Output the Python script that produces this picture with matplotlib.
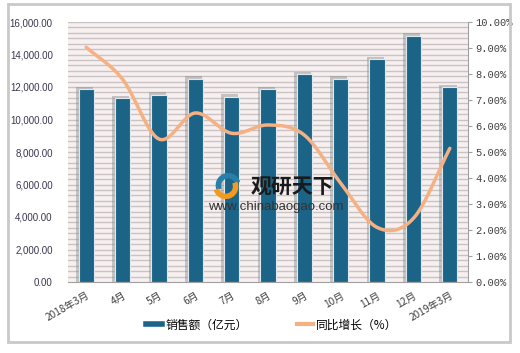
import numpy as np
import matplotlib
matplotlib.use("Agg")
import matplotlib.pyplot as plt
from matplotlib.lines import Line2D
from matplotlib.patches import Rectangle, Wedge

categories = ["2018年3月", "4月", "5月", "6月", "7月", "8月", "9月", "10月", "11月", "12月", "2019年3月"]
sales = [11850, 11300, 11500, 12500, 11400, 11850, 12780, 12490, 13700, 15140, 11980]
growth = [9.03, 7.8, 5.5, 6.5, 5.72, 6.04, 5.65, 3.8, 2.1, 2.45, 5.14]

plt.rcParams['font.family'] = ['Noto Sans CJK SC', 'DejaVu Sans']

fig = plt.figure(figsize=(5.2, 3.53), dpi=100)
fig.patch.set_facecolor('white')
# outer chart border
fig.patches.append(Rectangle((8 / 520, 1 - 342 / 353), (510 - 8) / 520, (342 - 4) / 353,
                             transform=fig.transFigure, fill=False, edgecolor='#c9c9c9', lw=2))

ax = fig.add_axes([68 / 520, 1 - 282 / 353, 400 / 520, 260 / 353])
ax.set_facecolor('#f8f0f0')
x = np.arange(len(categories))
ax.set_xlim(-0.5, len(categories) - 0.5)
ax.set_ylim(0, 16000)

# grid lines
for g in np.linspace(0, 16000, 49)[1:]:
    ax.axhline(g, color='#c9c3c3', lw=1.0, zorder=0.5)

bw = 0.42
# shadows
ax.bar(x - 0.05, np.array(sales) + 170, width=bw + 0.05, color='#8a8a8a', alpha=0.45, zorder=1, lw=0)
ax.bar(x, sales, width=bw, color='#1b6487', edgecolor='#dfe8ee', lw=0.8, zorder=2)

ax.set_yticks(np.arange(0, 16001, 2000))
ax.set_yticklabels([f"{v:,.2f}" for v in np.arange(0, 16001, 2000)],
                   fontfamily='Liberation Sans', fontsize=7, color='#3b3550')
ax.tick_params(axis='y', length=0, pad=11)
ax.set_xticks(x)
ax.set_xticklabels(categories, rotation=30, ha='right', rotation_mode='anchor',
                   fontsize=7.3, color='#404040')
ax.tick_params(axis='x', length=0, pad=6)
for s in ['top', 'left']:
    ax.spines[s].set_visible(False)
ax.spines['bottom'].set_color('#a0a0a0')
ax.spines['right'].set_visible(False)

ax2 = ax.twinx()
ax2.set_ylim(0, 10)
ax2.set_xlim(ax.get_xlim())

# Catmull-Rom smoothing of the line (as the reference's smoothed line)
P = np.column_stack([x, growth]).astype(float)
ext = np.vstack([P[0] - (P[1] - P[0]), P, P[-1] + (P[-1] - P[-2])])
pts = []
for i in range(1, len(ext) - 2):
    p0, p1, p2, p3 = ext[i - 1], ext[i], ext[i + 1], ext[i + 2]
    for t in np.linspace(0, 1, 30, endpoint=False):
        t2, t3 = t * t, t * t * t
        pts.append(0.5 * ((2 * p1) + (-p0 + p2) * t + (2 * p0 - 5 * p1 + 4 * p2 - p3) * t2
                          + (-p0 + 3 * p1 - 3 * p2 + p3) * t3))
pts.append(P[-1])
pts = np.array(pts)
ax2.plot(pts[:, 0], pts[:, 1], color='#f5b184', lw=2.5, solid_capstyle='round', zorder=5)

ax2.set_yticks(np.arange(0, 11, 1))
ax2.set_yticklabels([f"{v:.2f}%" for v in np.arange(0, 11, 1)],
                    fontfamily='Liberation Mono', fontsize=7.5, color='#404040')
ax2.tick_params(axis='y', length=3, color='#a0a0a0', pad=2)
for s in ['top', 'left', 'bottom']:
    ax2.spines[s].set_visible(False)
ax2.spines['right'].set_color('#a0a0a0')

# watermark
lax = fig.add_axes([208 / 520, 1 - 199 / 353, 38 / 520, 26 / 353], zorder=10)
lax.set_xlim(-1.6, 1.6)
lax.set_ylim(-1.1, 1.1)
lax.axis('off')
lax.add_patch(Wedge((0.1, 0.05), 1.0, 20, 200, width=0.35, color='#2a7fa8'))
lax.add_patch(Wedge((-0.1, -0.05), 1.0, 200, 380, width=0.35, color='#f39a1e'))
fig.text(251 / 520, 1 - 187 / 353, "观研天下", fontsize=15, fontweight='bold', color='#1a1a1a',
         ha='left', va='center', zorder=10)
fig.text(208 / 520, 1 - 207 / 353, "www.chinabaogao.com", fontfamily='Liberation Sans', fontsize=9.5,
         color='#333333', ha='left', va='center', zorder=10)

handles = [Line2D([0], [0], color='#1b6487', lw=4),
           Line2D([0], [0], color='#f5b184', lw=3)]
fig.legend(handles, ["销售额（亿元）", "同比增长（%）"], loc='center', bbox_to_anchor=(0.523, 1 - 325 / 353),
           ncol=2, frameon=False, fontsize=8.5, handlelength=1.3, columnspacing=4.2, handletextpad=0.3)

fig.savefig("out.png", dpi=100)
